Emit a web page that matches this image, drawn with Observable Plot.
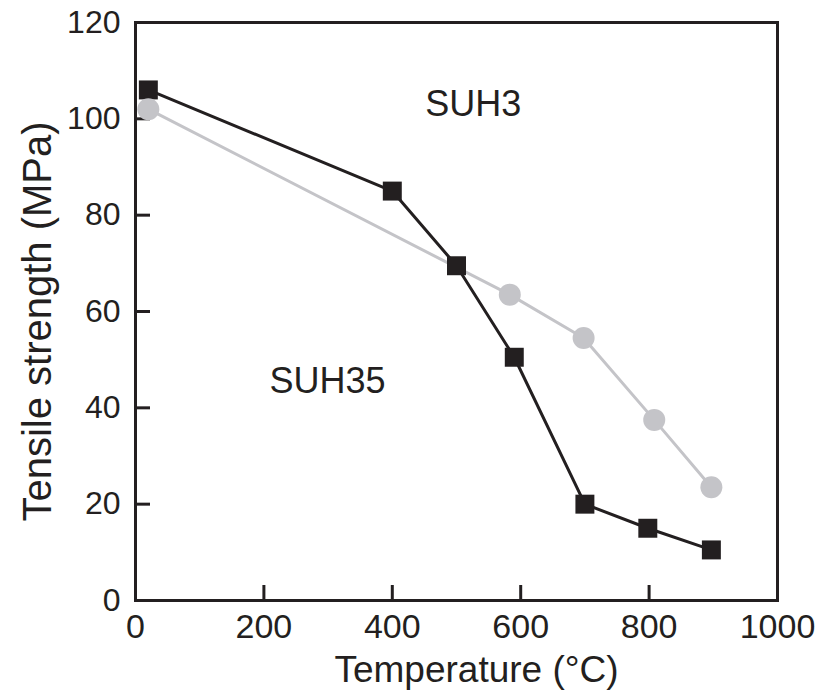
<!DOCTYPE html>
<html>
<head>
<meta charset="utf-8">
<script src="https://cdn.jsdelivr.net/npm/d3@7"></script>
<script src="https://cdn.jsdelivr.net/npm/@observablehq/plot@0.6"></script>
<style>
  html, body { margin: 0; padding: 0; background: #fff; }
  #chart svg { font-family: "Liberation Sans", Arial, sans-serif; }
</style>
</head>
<body>
<div id="chart"></div>
<script>
// SUH3 (black squares)
const suh3Temp = [20, 400, 500, 590, 700, 798, 897];
const suh3Strength = [106, 85, 69.5, 50.5, 20, 15, 10.5];
// SUH35 (grey circles)
const suh35Temp = [20, 583, 698, 808, 897];
const suh35Strength = [102, 63.5, 54.5, 37.5, 23.5];
// tick labels
const xTicks = [0, 200, 400, 600, 800, 1000];
const yTicks = [0, 20, 40, 60, 80, 100, 120];
// axis titles
const xTitle = "Temperature (°C)";
const yTitle = "Tensile strength (MPa)";
// series labels and their positions (data units)
const seriesNames = ["SUH3", "SUH35"];
const seriesLabelX = [526, 299];
const seriesLabelY = [103, 45.4];

const ink = "#231f20";
const grey = "#c4c4c8";

const suh3 = suh3Temp.map((t, i) => ({t, s: suh3Strength[i]}));
const suh35 = suh35Temp.map((t, i) => ({t, s: suh35Strength[i]}));
const labels = seriesNames.map((n, i) => ({n, x: seriesLabelX[i], y: seriesLabelY[i]}));

const chart = Plot.plot({
  width: 830,
  height: 694,
  marginLeft: 135,
  marginRight: 53,
  marginTop: 22,
  marginBottom: 94,
  x: {domain: [0, 1000]},
  y: {domain: [0, 120]},
  marks: [
    // inward ticks
    Plot.axisX(xTicks, {tickSize: 15, dy: -15, text: null, stroke: ink, strokeWidth: 3, label: null}),
    Plot.axisY(yTicks, {tickSize: 15, dx: 15, text: null, stroke: ink, strokeWidth: 3, label: null}),
    // tick labels
    Plot.axisX(xTicks, {tickSize: 0, tickPadding: 13, fontSize: 34, fill: ink, label: null, tickFormat: d => String(d)}),
    Plot.axisY(yTicks, {tickSize: 0, tickPadding: 15, fontSize: 32, fill: ink, label: null, tickFormat: d => String(d)}),
    // axis titles
    Plot.text([xTitle], {frameAnchor: "bottom", textAnchor: "middle", lineAnchor: "middle", dx: 20, dy: 70, fontSize: 37, fill: ink}),
    Plot.text([yTitle], {frameAnchor: "left", textAnchor: "middle", lineAnchor: "middle", rotate: -90, dx: -97, dy: 10, fontSize: 40, fill: ink}),
    Plot.frame({stroke: ink, strokeWidth: 3}),
    // series
    Plot.line(suh35, {x: "t", y: "s", stroke: grey, strokeWidth: 3}),
    Plot.line(suh3, {x: "t", y: "s", stroke: ink, strokeWidth: 3}),
    Plot.dot(suh3, {x: "t", y: "s", symbol: "square", r: 10.7, fill: ink}),
    Plot.dot(suh35, {x: "t", y: "s", symbol: "circle", r: 11, fill: grey}),
    Plot.text(labels, {x: "x", y: "y", text: "n", fontSize: 36, fill: ink})
  ]
});
document.getElementById("chart").appendChild(chart);
</script>
</body>
</html>
